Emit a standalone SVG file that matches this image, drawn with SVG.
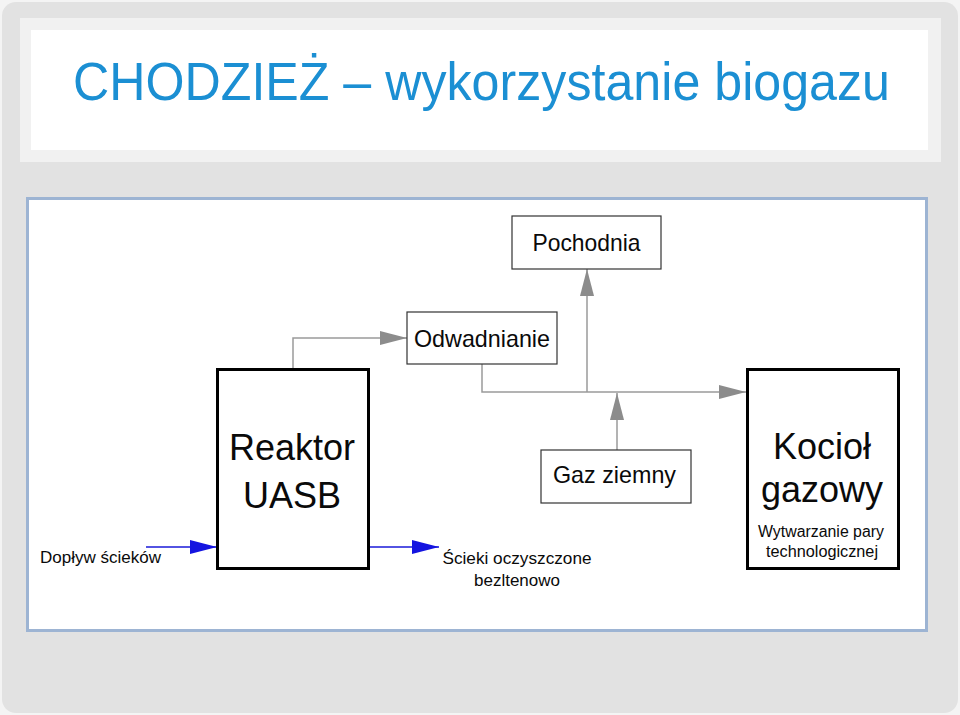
<svg xmlns="http://www.w3.org/2000/svg" width="960" height="715" viewBox="0 0 960 715">
<style>
.box{fill:#ffffff;stroke:#333333;stroke-width:1.2}
.thick{fill:#ffffff;stroke:#000000;stroke-width:3}
.lbl{font-family:"Liberation Sans",Arial,sans-serif;fill:#0a0a0a;text-anchor:middle}
.conn{fill:none;stroke:#9a9a9a;stroke-width:1.5}
.blue{fill:none;stroke:#1a1ad8;stroke-width:1.5}
</style>
<defs>
<marker id="ag" markerUnits="userSpaceOnUse" markerWidth="28" markerHeight="14" refX="27" refY="7" orient="auto">
<path d="M0,0 L27,7 L0,14 z" fill="#8c8c8c"/>
</marker>
<marker id="ab" markerUnits="userSpaceOnUse" markerWidth="28" markerHeight="14" refX="27" refY="7" orient="auto">
<path d="M0,0 L27,7 L0,14 z" fill="#1414e0"/>
</marker>
</defs>
<rect x="0" y="0" width="960" height="715" fill="#f4f4f4"/>
<rect x="2" y="2" width="956" height="711" rx="14" fill="#e2e2e2"/>
<rect x="20" y="18" width="921" height="144" fill="#f1f1f1"/>
<rect x="31" y="30" width="897" height="120" fill="#ffffff"/>
<text x="73" y="100" font-family="'Liberation Sans',Arial,sans-serif" font-size="53" fill="#1b8fd3" textLength="817" lengthAdjust="spacingAndGlyphs">CHODZIEŻ – wykorzystanie biogazu</text>
<rect x="27.5" y="198.5" width="899" height="432" fill="#ffffff" stroke="#9db4d3" stroke-width="3"/>
<g id="connectors">
<path class="conn" d="M293,369 V338 H407" marker-end="url(#ag)"/>
<path class="conn" d="M482,364 V392 H746" marker-end="url(#ag)"/>
<path class="conn" d="M587,392 V269" marker-end="url(#ag)"/>
<path class="conn" d="M617,450 V393" marker-end="url(#ag)"/>
<path class="blue" d="M146,547 H217" marker-end="url(#ab)"/>
<path class="blue" d="M369,547 H439" marker-end="url(#ab)"/>
</g>
<g id="pochodnia">
<rect class="box" x="512" y="216" width="149" height="53"/>
<text class="lbl" x="586.5" y="251" font-size="24" textLength="108" lengthAdjust="spacingAndGlyphs">Pochodnia</text>
</g>
<g id="odwadnianie">
<rect class="box" x="407" y="312" width="150" height="52"/>
<text class="lbl" x="482" y="347" font-size="24" textLength="136" lengthAdjust="spacingAndGlyphs">Odwadnianie</text>
</g>
<g id="gaz">
<rect class="box" x="541" y="450" width="150" height="53"/>
<text class="lbl" x="614.5" y="483" font-size="24" textLength="123" lengthAdjust="spacingAndGlyphs">Gaz ziemny</text>
</g>
<g id="reaktor">
<rect class="thick" x="217.5" y="369.5" width="151" height="199"/>
<text class="lbl" x="292" y="460" font-size="36">Reaktor</text>
<text class="lbl" x="292" y="508" font-size="36">UASB</text>
</g>
<g id="kociol">
<rect class="thick" x="747.5" y="369.5" width="151" height="199"/>
<text class="lbl" x="822" y="459" font-size="36">Kocioł</text>
<text class="lbl" x="822" y="502" font-size="36">gazowy</text>
<text class="lbl" x="821" y="537" font-size="16" textLength="126" lengthAdjust="spacingAndGlyphs">Wytwarzanie pary</text>
<text class="lbl" x="822" y="557" font-size="16" textLength="112" lengthAdjust="spacingAndGlyphs">technologicznej</text>
</g>
<g id="doplyw">
<text x="40" y="563" font-family="'Liberation Sans',Arial,sans-serif" font-size="17" fill="#0a0a0a" textLength="121" lengthAdjust="spacingAndGlyphs">Dopływ ścieków</text>
</g>
<g id="scieki">
<text class="lbl" x="517" y="564" font-size="17" textLength="149" lengthAdjust="spacingAndGlyphs">Ścieki oczyszczone</text>
<text class="lbl" x="517" y="586" font-size="17" textLength="86" lengthAdjust="spacingAndGlyphs">bezltenowo</text>
</g>
</svg>
